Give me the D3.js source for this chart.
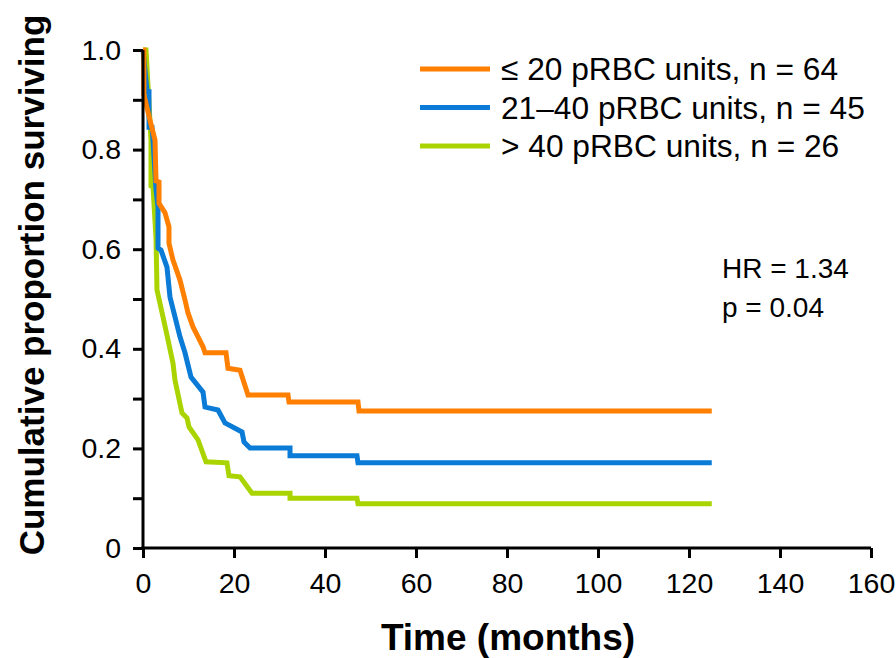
<!DOCTYPE html>
<html>
<head>
<meta charset="utf-8">
<script src="https://cdn.jsdelivr.net/npm/d3@7"></script>
<style>
  html, body { margin: 0; padding: 0; background: #fff; }
  svg { display: block; font-family: "Liberation Sans", Arial, sans-serif; }
</style>
</head>
<body>
<svg id="chart" width="896" height="658"></svg>
<script>
// Kaplan–Meier survival by transfusion burden: [months, proportion surviving]
const lowUnits = [
  [0, 1.0], [0.2, 1.0], [0.2, 0.910], [1.54, 0.859], [2.64, 0.819], [2.86, 0.737],
  [3.52, 0.735], [3.52, 0.692], [4.84, 0.673], [5.71, 0.645], [5.71, 0.612],
  [6.59, 0.578], [8.13, 0.538], [9.23, 0.498], [9.89, 0.472], [10.99, 0.444],
  [12.09, 0.424], [13.19, 0.404], [13.63, 0.392], [18.24, 0.392], [18.68, 0.361],
  [21.32, 0.357], [23.08, 0.307], [31.87, 0.307], [32.09, 0.293], [47.25, 0.293],
  [47.47, 0.275], [125, 0.275]
];
const midUnits = [
  [0, 1.0], [0.9, 0.916], [1.32, 0.916], [1.32, 0.845], [1.98, 0.845], [2.2, 0.819],
  [2.86, 0.719], [3.3, 0.685], [3.3, 0.602], [3.96, 0.598], [5.27, 0.564],
  [5.93, 0.504], [7.03, 0.464], [8.13, 0.424], [9.23, 0.392], [10.55, 0.343],
  [13.19, 0.313], [13.63, 0.283], [16.48, 0.277], [18.02, 0.251], [21.76, 0.233],
  [22.2, 0.213], [23.52, 0.201], [32.31, 0.201], [32.31, 0.185], [47.03, 0.185],
  [47.25, 0.171], [125, 0.171]
];
const highUnits = [
  [0, 1.0], [0.66, 1.0], [1.76, 0.819], [1.76, 0.727], [2.2, 0.725], [2.86, 0.622],
  [3.08, 0.518], [4.4, 0.464], [5.49, 0.418], [6.59, 0.371], [7.03, 0.337],
  [8.57, 0.271], [9.67, 0.261], [10.11, 0.243], [12.09, 0.217], [13.85, 0.173],
  [18.46, 0.171], [18.9, 0.145], [21.32, 0.143], [23.96, 0.110], [32.31, 0.110],
  [32.31, 0.100], [47.03, 0.100], [47.25, 0.089], [125, 0.089]
];

const seriesNames = ["\u2264 20 pRBC units, n = 64", "21\u201340 pRBC units, n = 45", "> 40 pRBC units, n = 26"];
const seriesColors = ["#ff7f00", "#0a7bd6", "#aad400"];
const seriesData = [lowUnits, midUnits, highUnits];

const xTicks = [0, 20, 40, 60, 80, 100, 120, 140, 160];
const yTicks = [0, 0.1, 0.2, 0.3, 0.4, 0.5, 0.6, 0.7, 0.8, 0.9, 1.0];
const yTickLabels = { 0: "0", 0.2: "0.2", 0.4: "0.4", 0.6: "0.6", 0.8: "0.8", 1: "1.0" };
const statLines = ["HR = 1.34", "p = 0.04"];

const svg = d3.select("#chart");
const margin = { left: 143, right: 25, top: 50, bottom: 110 };
const W = 896, H = 658;

const x = d3.scaleLinear().domain([0, 160]).range([margin.left, W - margin.right]);
const y = d3.scaleLinear().domain([0, 1]).range([H - margin.bottom, margin.top]);

// survival curves (drawn first so the axes sit on top)
const line = d3.line().x(d => x(d[0])).y(d => y(d[1]));
const curves = svg.append("g");
[2, 1, 0].forEach(i => {
  curves.append("path")
    .datum(seriesData[i])
    .attr("d", line)
    .attr("fill", "none")
    .attr("stroke", seriesColors[i])
    .attr("stroke-width", 5)
    .attr("stroke-linejoin", "miter");
});

// x axis
const xAxis = svg.append("g")
  .attr("transform", `translate(0,${y(0)})`)
  .call(d3.axisBottom(x).tickValues(xTicks).tickSize(10).tickPadding(15).tickSizeOuter(0));
// y axis
const yAxis = svg.append("g")
  .attr("transform", `translate(${x(0)},0)`)
  .call(d3.axisLeft(y).tickValues(yTicks).tickSize(10).tickPadding(12).tickSizeOuter(0)
    .tickFormat(d => yTickLabels[Math.round(d * 10) / 10] ?? ""));

[xAxis, yAxis].forEach(g => {
  g.select(".domain").attr("stroke", "#000").attr("stroke-width", 3);
  g.selectAll(".tick line").attr("stroke", "#000").attr("stroke-width", 3);
  g.selectAll(".tick text").attr("fill", "#000").attr("font-size", 28.5)
    .attr("font-family", "Liberation Sans, Arial, sans-serif");
});
xAxis.select(".domain").attr("d", `M${x(0) - 1.5},0H${x(160)}`);
yAxis.select(".domain").attr("d", `M0,${y(0) + 1.5}V${y(1)}`);

// axis titles
svg.append("text")
  .attr("x", 508).attr("y", 650)
  .attr("text-anchor", "middle")
  .attr("font-size", 37).attr("font-weight", "bold")
  .text("Time (months)");
svg.append("text")
  .attr("transform", `translate(44,285) rotate(-90)`)
  .attr("text-anchor", "middle")
  .attr("font-size", 35).attr("font-weight", "bold")
  .text("Cumulative proportion surviving");

// legend
const legend = svg.append("g");
seriesNames.forEach((name, i) => {
  const ly = 69 + i * 38.5;
  legend.append("line")
    .attr("x1", 420).attr("x2", 490).attr("y1", ly).attr("y2", ly)
    .attr("stroke", seriesColors[i]).attr("stroke-width", 5);
  legend.append("text")
    .attr("x", 501).attr("y", ly + 11)
    .attr("font-size", 31.7)
    .text(name);
});

// hazard ratio annotation
statLines.forEach((s, i) => {
  svg.append("text")
    .attr("x", 722).attr("y", 278 + i * 39)
    .attr("font-size", 28)
    .text(s);
});
</script>
</body>
</html>
